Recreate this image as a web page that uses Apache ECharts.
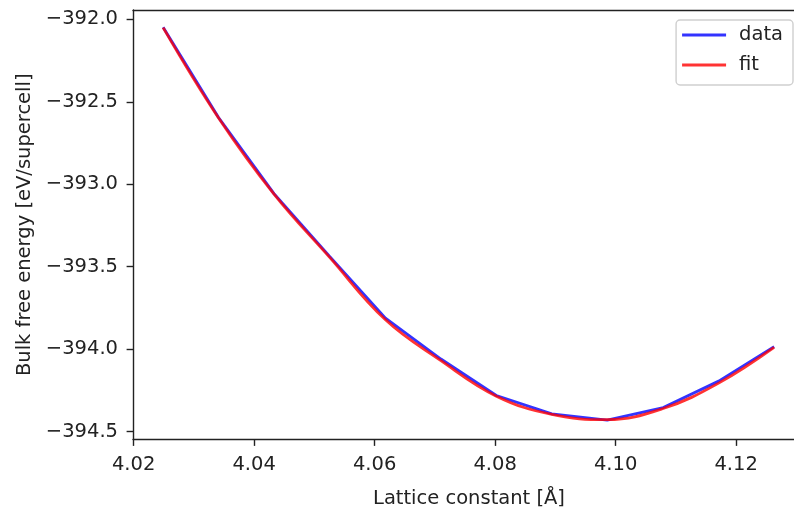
<!DOCTYPE html>
<html>
<head>
<meta charset="utf-8">
<script src="https://cdn.jsdelivr.net/npm/echarts@6/dist/echarts.min.js"></script>
<style>
html,body{margin:0;padding:0;background:#fff;}
#chart{width:794px;height:514px;}
</style>
</head>
<body>
<div id="chart"></div>
<script>
// Lattice constants [Å]
const latticeConstants = [4.0249, 4.0341, 4.0433, 4.0525, 4.0618, 4.0710, 4.0802, 4.0894, 4.0986, 4.1079, 4.1171, 4.1263];
// Computed bulk free energy [eV/supercell]
const dataEnergy = [-392.048, -392.595, -393.057, -393.436, -393.812, -394.060, -394.281, -394.393, -394.431, -394.354, -394.194, -393.985];
// Fitted equation of state
const fitEnergy  = [-392.050, -392.598, -393.060, -393.442, -393.822, -394.070, -394.285, -394.396, -394.428, -394.360, -394.206, -393.989];
// Tick labels
const xTicks = [4.02, 4.04, 4.06, 4.08, 4.10, 4.12];
const yTicks = [-394.5, -394.0, -393.5, -393.0, -392.5, -392.0];

const FONT = 'DejaVu Sans';
const FS = 19.5;
const TXT = '#222';
const SPINE = {color: '#222', width: 1.4};

const chart = echarts.init(document.getElementById('chart'), null, {renderer: 'canvas'});
chart.setOption({
  backgroundColor: '#fff',
  animation: false,
  textStyle: {fontFamily: FONT},
  grid: {left: 133, top: 10, right: 0, bottom: 71, show: false},
  legend: {
    orient: 'vertical', right: 1, top: 20,
    padding: [5, 10, 10, 6],
    itemWidth: 44, itemHeight: 3, itemGap: 10,
    icon: 'rect',
    backgroundColor: 'rgba(255,255,255,0.8)',
    borderColor: '#cfcfcf', borderWidth: 1.4, borderRadius: 4,
    textStyle: {fontFamily: FONT, fontSize: FS, color: TXT, lineHeight: 20, padding: [0, 0, 0, 8]},
    data: [
      {name: 'data', itemStyle: {color: 'rgba(0,0,255,0.8)'}},
      {name: 'fit', itemStyle: {color: 'rgba(255,0,0,0.8)'}}
    ]
  },
  xAxis: [{
    type: 'value', min: 4.0199, max: 4.1296, position: 'bottom',
    name: 'Lattice constant [Å]', nameLocation: 'middle', nameGap: 50,
    nameTextStyle: {fontFamily: FONT, fontSize: FS, color: TXT, lineHeight: 19, padding: [0, 0, 0, 11]},
    axisLine: {show: true, onZero: false, lineStyle: SPINE},
    axisTick: {show: true, length: 6.4, lineStyle: SPINE, customValues: xTicks},
    axisLabel: {fontFamily: FONT, fontSize: FS, color: TXT, margin: 16, lineHeight: 19,
      customValues: xTicks, formatter: v => v.toFixed(2)},
    splitLine: {show: false}
  }, {
    type: 'value', min: 4.0199, max: 4.1296, position: 'top',
    axisLine: {show: true, onZero: false, lineStyle: SPINE},
    axisTick: {show: false}, axisLabel: {show: false}, splitLine: {show: false}
  }],
  yAxis: {
    type: 'value', min: -394.548, max: -391.943,
    name: 'Bulk free energy [eV/supercell]', nameLocation: 'middle', nameGap: 97, nameRotate: 90,
    nameTextStyle: {fontFamily: FONT, fontSize: FS, color: TXT},
    axisLine: {show: true, onZero: false, lineStyle: SPINE},
    axisTick: {show: true, length: 6.4, lineStyle: SPINE, customValues: yTicks},
    axisLabel: {fontFamily: FONT, fontSize: FS, color: TXT, margin: 15,
      customValues: yTicks, formatter: v => v.toFixed(1).replace('-', '\u2212')},
    splitLine: {show: false}
  },
  series: [
    {name: 'data', type: 'line', xAxisIndex: 0, symbol: 'none', smooth: false,
      data: latticeConstants.map((x, i) => [x, dataEnergy[i]]),
      lineStyle: {color: '#0000ff', width: 2.8, opacity: 0.8}, itemStyle: {color: 'rgba(0,0,255,0.8)'}},
    {name: 'fit', type: 'line', xAxisIndex: 0, symbol: 'none', smooth: 0.4,
      data: latticeConstants.map((x, i) => [x, fitEnergy[i]]),
      lineStyle: {color: '#ff0000', width: 2.8, opacity: 0.8}, itemStyle: {color: 'rgba(255,0,0,0.8)'}}
  ]
});
</script>
</body>
</html>
